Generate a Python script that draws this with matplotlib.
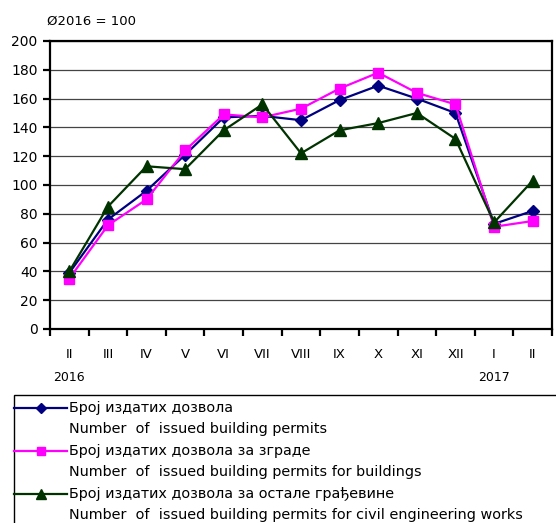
import matplotlib
matplotlib.use("Agg")
import matplotlib.pyplot as plt
from matplotlib.lines import Line2D
from matplotlib.patches import Rectangle
import numpy as np

months = ["II", "III", "IV", "V", "VI", "VII", "VIII", "IX", "X", "XI", "XII", "I", "II"]
years = {0: "2016", 11: "2017"}
total = [39, 76, 96, 121, 147, 148, 145, 159, 169, 160, 150, 73, 82]
buildings = [35, 72, 90, 124, 149, 147, 153, 167, 178, 164, 156, 71, 75]
civil = [40, 85, 113, 111, 138, 156, 122, 138, 143, 150, 132, 74, 103]
labels_sr = ["Број издатих дозвола", "Број издатих дозвола за зграде",
             "Број издатих дозвола за остале грађевине"]
labels_en = ["Number  of  issued building permits",
             "Number  of  issued building permits for buildings",
             "Number  of  issued building permits for civil engineering works"]
colors = ["#000080", "#FF00FF", "#003300"]
markers = ["D", "s", "^"]
msizes = [6.5, 7.5, 8]

plt.rcParams['font.family'] = ['DejaVu Sans']
W, H = 556, 523
fig = plt.figure(figsize=(W / 100, H / 100), dpi=100)

ax = fig.add_axes([50 / W, 1 - 329 / H, 502 / W, 288 / H])
x = np.arange(len(months))
for ys, c, m, ms in zip([total, buildings, civil], colors, markers, msizes):
    ax.plot(x, ys, color=c, marker=m, markersize=ms, linewidth=1.6,
            markerfacecolor=c, markeredgecolor=c, zorder=3, clip_on=False)

ax.set_xlim(-0.5, len(months) - 0.5)
ax.set_ylim(0, 200)
ax.set_yticks(np.arange(0, 201, 20))
ax.yaxis.grid(True, color="#444444", linewidth=0.9)
ax.set_axisbelow(True)
for s in ax.spines.values():
    s.set_linewidth(1.6)
    s.set_color("black")
ax.set_xticks(np.arange(-0.5, len(months), 1.0))
ax.set_xticklabels([])
ax.set_xticks(x, minor=True)
ax.set_xticklabels(months, minor=True, fontsize=9.5)
ax.tick_params(axis="x", which="major", direction="out", length=5, width=1.6)
ax.tick_params(axis="x", which="minor", length=0, pad=13.5)
ax.tick_params(axis="y", direction="out", length=5, width=1.6, labelsize=10, pad=4)

for i, yr in years.items():
    ax.text(i, -0.168, yr, transform=ax.get_xaxis_transform(), ha="center", va="center",
            fontsize=9)

fig.text(47 / W, 1 - 21 / H, "Ø2016 = 100", ha="left", va="center", fontsize=9.5)

# legend (manual)
def fx(px):
    return px / W

def fy(py):
    return 1 - py / H

fig.add_artist(Rectangle((fx(14), fy(560)), fx(600) - fx(14), fy(395) - fy(560),
                         transform=fig.transFigure, facecolor="none", edgecolor="black",
                         linewidth=1.0, clip_on=False))
for k in range(3):
    y1 = 408 + 43 * k
    y2 = y1 + 21
    fig.add_artist(Line2D([fx(14), fx(67)], [fy(y1), fy(y1)], color=colors[k], linewidth=1.6,
                          transform=fig.transFigure))
    fig.add_artist(Line2D([fx(41)], [fy(y1)], color=colors[k], marker=markers[k],
                          markersize=msizes[k] - 1.5, transform=fig.transFigure))
    fig.text(fx(69), fy(y1), labels_sr[k], ha="left", va="center", fontsize=10.4)
    fig.text(fx(69), fy(y2), labels_en[k], ha="left", va="center", fontsize=10.4)

fig.savefig("out.png", dpi=100)
